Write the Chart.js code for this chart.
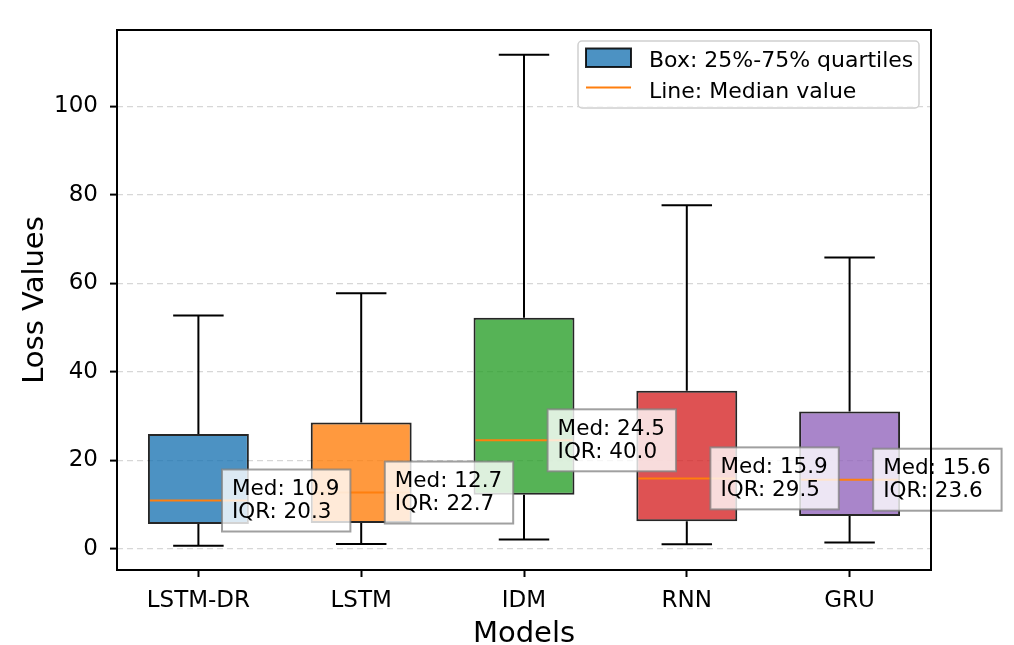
<!DOCTYPE html>
<html lang="en">
<head>
    <meta charset="UTF-8">
    <title>Loss Values by Model</title>
    <script src="https://cdn.jsdelivr.net/npm/chart.js"></script>
    <style>
        body { margin: 0; background: #fff; }
    </style>
</head>
<body>
    <canvas id="box-chart" width="1014" height="645"></canvas>

    <script>
        // data
        const models = ['LSTM-DR', 'LSTM', 'IDM', 'RNN', 'GRU'];
        const whiskerLow = [0.7, 1.1, 2.1, 1.0, 1.4];
        const q1 = [5.6, 5.8, 12.2, 6.2, 7.4];
        const median = [10.9, 12.7, 24.5, 15.9, 15.6];
        const q3 = [25.9, 28.5, 52.2, 35.7, 31.0];
        const whiskerHigh = [52.7, 57.7, 111.6, 77.6, 65.8];
        const yTicks = [0, 20, 40, 60, 80, 100];

        const boxColors = [
            'rgba(31,119,180,0.8)',
            'rgba(255,127,14,0.8)',
            'rgba(44,160,44,0.8)',
            'rgba(214,39,40,0.8)',
            'rgba(148,103,189,0.8)'
        ];
        const FONT = '"DejaVu Sans", sans-serif';

        // whiskers, caps and median lines, drawn from the scales
        const boxExtras = {
            id: 'boxExtras',
            afterDatasetsDraw(chart) {
                const ctx = chart.ctx;
                const x = chart.scales.x, y = chart.scales.y;
                const meta = chart.getDatasetMeta(0);
                ctx.save();
                meta.data.forEach((bar, i) => {
                    const cx = x.getPixelForValue(i);
                    const half = bar.width / 2;
                    const cap = half / 2;
                    ctx.strokeStyle = '#000';
                    ctx.lineWidth = 2;
                    ctx.beginPath();
                    ctx.moveTo(cx, y.getPixelForValue(q3[i]));
                    ctx.lineTo(cx, y.getPixelForValue(whiskerHigh[i]));
                    ctx.moveTo(cx, y.getPixelForValue(q1[i]));
                    ctx.lineTo(cx, y.getPixelForValue(whiskerLow[i]));
                    ctx.moveTo(cx - cap, y.getPixelForValue(whiskerHigh[i]));
                    ctx.lineTo(cx + cap, y.getPixelForValue(whiskerHigh[i]));
                    ctx.moveTo(cx - cap, y.getPixelForValue(whiskerLow[i]));
                    ctx.lineTo(cx + cap, y.getPixelForValue(whiskerLow[i]));
                    ctx.stroke();

                    ctx.strokeStyle = '#ff7f0e';
                    ctx.beginPath();
                    ctx.moveTo(cx - half + 2, y.getPixelForValue(median[i]));
                    ctx.lineTo(cx + half - 2, y.getPixelForValue(median[i]));
                    ctx.stroke();
                });
                ctx.restore();
            },
            afterDraw(chart) {
                const ctx = chart.ctx;
                const x = chart.scales.x, y = chart.scales.y;
                const area = chart.chartArea;
                const catW = (area.right - area.left) / models.length;
                ctx.save();

                // Med / IQR labels
                ctx.font = '21.5px ' + FONT;
                ctx.textBaseline = 'alphabetic';
                models.forEach((m, i) => {
                    const lines = ['Med: ' + median[i].toFixed(1), 'IQR: ' + (q3[i] - q1[i]).toFixed(1)];
                    const w = Math.max(...lines.map(t => ctx.measureText(t).width)) + 21;
                    const h = 62;
                    const left = x.getPixelForValue(i) + catW * 0.145;
                    const cy = y.getPixelForValue(median[i]);
                    ctx.fillStyle = 'rgba(255,255,255,0.8)';
                    ctx.fillRect(left, cy - h / 2, w, h);
                    ctx.strokeStyle = 'rgba(128,128,128,0.75)';
                    ctx.lineWidth = 2;
                    ctx.strokeRect(left, cy - h / 2, w, h);
                    ctx.fillStyle = '#000';
                    ctx.fillText(lines[0], left + 10, cy - 5.5);
                    ctx.fillText(lines[1], left + 10, cy + 17.5);
                });

                // frame round the plot area
                ctx.strokeStyle = '#000';
                ctx.lineWidth = 2;
                ctx.strokeRect(area.left, area.top, area.right - area.left, area.bottom - area.top);

                // legend, top right inside the plot
                const lx = area.right - 353, ly = area.top + 11;
                ctx.fillStyle = 'rgba(255,255,255,0.8)';
                ctx.strokeStyle = '#d0d0d0';
                ctx.lineWidth = 1.5;
                ctx.beginPath();
                ctx.roundRect(lx, ly, 341, 67, 4);
                ctx.fill();
                ctx.stroke();
                ctx.fillStyle = boxColors[0];
                ctx.fillRect(lx + 8, ly + 7.5, 45, 18.5);
                ctx.strokeStyle = 'rgba(0,0,0,0.85)';
                ctx.lineWidth = 2;
                ctx.strokeRect(lx + 8, ly + 7.5, 45, 18.5);
                ctx.strokeStyle = '#ff7f0e';
                ctx.beginPath();
                ctx.moveTo(lx + 8, ly + 46.5);
                ctx.lineTo(lx + 53, ly + 46.5);
                ctx.stroke();
                ctx.fillStyle = '#000';
                ctx.font = '22px ' + FONT;
                ctx.fillText('Box: 25%-75% quartiles', lx + 71, ly + 25.5);
                ctx.fillText('Line: Median value', lx + 71, ly + 56.5);
                ctx.restore();
            }
        };

        new Chart(document.getElementById('box-chart'), {
            type: 'bar',
            data: {
                labels: models,
                datasets: [{
                    label: 'Box: 25%-75% quartiles',
                    data: models.map((m, i) => [q1[i], q3[i]]),
                    backgroundColor: boxColors,
                    borderColor: 'rgba(0,0,0,0.85)',
                    borderWidth: 2,
                    borderSkipped: false,
                    barPercentage: 0.62,
                    categoryPercentage: 1.0
                }]
            },
            options: {
                responsive: false,
                animation: false,
                devicePixelRatio: 1,
                layout: { padding: { top: 30, right: 83, left: 0, bottom: 0 } },
                plugins: {
                    legend: { display: false },
                    tooltip: { enabled: false }
                },
                scales: {
                    x: {
                        afterFit: s => { s.height = 75; },
                        grid: { offset: false, drawOnChartArea: false, tickLength: 7, tickColor: '#000', tickWidth: 2 },
                        border: { display: false },
                        ticks: { color: '#000', padding: 10, font: { family: FONT, size: 23 } },
                        title: {
                            display: true, text: 'Models', color: '#000',
                            font: { family: FONT, size: 29, lineHeight: 0.72 },
                            padding: { top: 0, bottom: 0 }
                        }
                    },
                    y: {
                        min: -4.8,
                        max: 117.2,
                        afterFit: s => { s.width = 117; },
                        afterBuildTicks: s => { s.ticks = yTicks.map(v => ({ value: v })); },
                        grid: {
                            color: 'rgba(176,176,176,0.5)', lineWidth: 1.2,
                            tickLength: 7, tickColor: '#000', tickWidth: 2, tickBorderDash: []
                        },
                        border: { display: false, dash: [6, 4] },
                        ticks: { color: '#000', padding: 12, font: { family: FONT, size: 23 } },
                        title: {
                            display: true, text: 'Loss Values', color: '#000',
                            font: { family: FONT, size: 29, lineHeight: 1 },
                            padding: { top: 21, bottom: 0 }
                        }
                    }
                }
            },
            plugins: [boxExtras]
        });
    </script>
</body>
</html>
